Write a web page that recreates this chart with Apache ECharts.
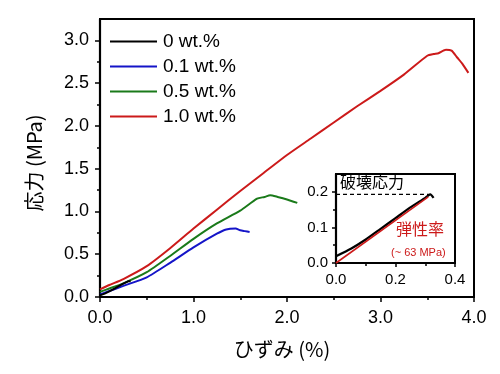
<!DOCTYPE html>
<html>
<head>
<meta charset="utf-8">
<script src="https://cdn.jsdelivr.net/npm/echarts@6/dist/echarts.min.js"></script>
<style>html,body{margin:0;padding:0;background:#fff}#c{width:500px;height:374px}</style>
</head>
<body>
<div id="c"></div>
<script>
// ---- data ----
const seriesNames = ['0 wt.%', '0.1 wt.%', '0.5 wt.%', '1.0 wt.%'];
const strainBlack = [0, 0.05, 0.1, 0.15, 0.2, 0.25, 0.3, 0.317, 0.328];
const stressBlack = [0.019, 0.04, 0.066, 0.096, 0.126, 0.156, 0.183, 0.193, 0.183];
const strainBlue = [0, 0.1, 0.25, 0.5, 0.75, 1.0, 1.25, 1.35, 1.45, 1.5, 1.55, 1.6];
const stressBlue = [0.03, 0.07, 0.13, 0.23, 0.40, 0.58, 0.74, 0.79, 0.80, 0.78, 0.77, 0.76];
const strainGreen = [0, 0.1, 0.25, 0.5, 0.75, 1.0, 1.25, 1.5, 1.68, 1.76, 1.82, 1.9, 2.0, 2.11];
const stressGreen = [0.06, 0.10, 0.16, 0.29, 0.48, 0.68, 0.86, 1.01, 1.15, 1.17, 1.19, 1.17, 1.14, 1.10];
const strainRed = [0, 0.1, 0.25, 0.5, 0.75, 1.0, 1.25, 1.5, 1.75, 2.0, 2.25, 2.5, 2.75, 3.0, 3.25, 3.5, 3.57, 3.62, 3.7, 3.76, 3.82, 3.88, 3.94];
const stressRed = [0.09, 0.14, 0.21, 0.36, 0.57, 0.80, 1.02, 1.24, 1.45, 1.66, 1.85, 2.04, 2.23, 2.41, 2.60, 2.82, 2.84, 2.85, 2.89, 2.88, 2.80, 2.72, 2.62];
// inset: modulus fit and fracture stress
const fitStrain = [0, 0.31];
const fitStress = [0, 0.186];
const breakStrain = [0, 0.317];
const breakStress = [0.193, 0.193];
// tick labels
const mainXTicks = [0, 1, 2, 3, 4];
const mainYTicks = [0, 0.5, 1.0, 1.5, 2.0, 2.5, 3.0];
const mainYMinor = [0.25, 0.75, 1.25, 1.75, 2.25, 2.75];
const insetXTicks = [0, 0.2, 0.4];
const insetYTicks = [0, 0.1, 0.2];
const insetYMinor = [0.05, 0.15];
const labelFracture = '破壊応力';
const labelModulus = '弾性率';
const labelModulusValue = '(~ 63 MPa)';

const pairs = (xs, ys) => xs.map((x, i) => [x, ys[i]]);
const colors = {black: '#000000', blue: '#1414c8', green: '#1a7a1a', red: '#cc1a1a'};
const latin = '"Liberation Sans", Arial, sans-serif';
const cjk = '"Noto Sans CJK JP", sans-serif';

const chart = echarts.init(document.getElementById('c'), null, {renderer: 'canvas'});

function valAxis(o) {
  return Object.assign({
    type: 'value',
    splitLine: {show: false},
    axisLine: {show: true, onZero: false, lineStyle: {color: '#000', width: 2.2}},
    axisTick: {show: true, length: 5, lineStyle: {color: '#000', width: 1.5}},
    minorTick: {show: false},
    axisLabel: {color: '#000', fontFamily: latin}
  }, o);
}

const option = {
  animation: false,
  backgroundColor: '#fff',
  grid: [
    {left: 100, top: 19, right: 26, bottom: 77, show: true, borderColor: '#000', borderWidth: 2, backgroundColor: 'transparent'},
    {left: 336, top: 174, right: 45, bottom: 111, show: true, borderColor: '#000', borderWidth: 2, backgroundColor: '#fff', z: 5}
  ],
  legend: {
    data: seriesNames,
    orient: 'vertical',
    left: 110, top: 32, padding: 0,
    itemWidth: 47, itemHeight: 14, itemGap: 6,
    icon: 'path://M0,6 L47,6 L47,8 L0,8 Z',
    textStyle: {fontFamily: latin, fontSize: 19, color: '#000', padding: [0, 0, 0, 1]},
    selectedMode: false
  },
  xAxis: [
    valAxis({gridIndex: 0, min: 0, max: 4, interval: 1,
      minorTick: {show: true, splitNumber: 2, length: 3, lineStyle: {color: '#000', width: 1.5}},
      axisLabel: {color: '#000', fontFamily: latin, fontSize: 18, margin: 12, formatter: v => mainXTicks.includes(v) ? v.toFixed(1) : ''},
      name: 'ひずみ (%)', nameLocation: 'middle', nameGap: 42,
      nameTextStyle: {fontFamily: cjk, fontSize: 20, color: '#000', padding: [0, 10, 0, 0]}}),
    valAxis({gridIndex: 1, min: 0, max: 0.4, interval: 0.2, z: 6,
      minorTick: {show: true, splitNumber: 2, length: 3, lineStyle: {color: '#000', width: 1.5}},
      axisTick: {show: true, length: 4, lineStyle: {color: '#000', width: 1.5}},
      axisLabel: {color: '#000', fontFamily: latin, fontSize: 15, margin: 9, formatter: v => insetXTicks.some(t => Math.abs(t - v) < 1e-9) ? v.toFixed(1) : ''}})
  ],
  yAxis: [
    valAxis({gridIndex: 0, min: 0, max: 3.25,
      axisTick: {show: true, length: 5, customValues: mainYTicks, lineStyle: {color: '#000', width: 1.5}},
      axisLabel: {color: '#000', fontFamily: latin, fontSize: 18, margin: 11, customValues: mainYTicks, formatter: v => v.toFixed(1)},
      name: '応力 (MPa)', nameLocation: 'middle', nameGap: 56, nameRotate: 90,
      nameTextStyle: {fontFamily: cjk, fontSize: 20, color: '#000', padding: [0, 10, 0, 0]}}),
    valAxis({gridIndex: 0, min: 0, max: 3.25, position: 'left',
      axisLine: {show: false},
      axisTick: {show: true, length: 3, customValues: mainYMinor, lineStyle: {color: '#000', width: 1.5}},
      axisLabel: {show: false}}),
    valAxis({gridIndex: 1, min: 0, max: 0.25, z: 6,
      axisTick: {show: true, length: 4, customValues: insetYTicks, lineStyle: {color: '#000', width: 1.5}},
      axisLabel: {color: '#000', fontFamily: latin, fontSize: 15, margin: 8, customValues: insetYTicks, formatter: v => v.toFixed(1)}}),
    valAxis({gridIndex: 1, min: 0, max: 0.25, position: 'left', z: 6,
      axisLine: {show: false},
      axisTick: {show: true, length: 3, customValues: insetYMinor, lineStyle: {color: '#000', width: 1.5}},
      axisLabel: {show: false}})
  ],
  series: [
    {name: seriesNames[3], type: 'line', xAxisIndex: 0, yAxisIndex: 0, data: pairs(strainRed, stressRed), symbol: 'none', smooth: 0.2, color: colors.red, lineStyle: {width: 2, color: colors.red}},
    {name: seriesNames[2], type: 'line', xAxisIndex: 0, yAxisIndex: 0, data: pairs(strainGreen, stressGreen), symbol: 'none', smooth: 0.2, color: colors.green, lineStyle: {width: 2, color: colors.green}},
    {name: seriesNames[1], type: 'line', xAxisIndex: 0, yAxisIndex: 0, data: pairs(strainBlue, stressBlue), symbol: 'none', smooth: 0.2, color: colors.blue, lineStyle: {width: 2, color: colors.blue}},
    {name: seriesNames[0], type: 'line', xAxisIndex: 0, yAxisIndex: 0, data: pairs(strainBlack, stressBlack), symbol: 'none', color: colors.black, lineStyle: {width: 2, color: colors.black}},
    {name: 'inset-break', type: 'line', xAxisIndex: 1, yAxisIndex: 2, data: pairs(breakStrain, breakStress), symbol: 'none', z: 7, lineStyle: {width: 1.3, color: '#000', type: [4, 3]}},
    {name: 'inset-black', type: 'line', xAxisIndex: 1, yAxisIndex: 2, data: pairs(strainBlack, stressBlack), symbol: 'none', smooth: 0.2, z: 7, lineStyle: {width: 2.2, color: colors.black}},
    {name: 'inset-fit', type: 'line', xAxisIndex: 1, yAxisIndex: 2, data: pairs(fitStrain, fitStress), symbol: 'none', z: 7, lineStyle: {width: 1.6, color: colors.red}}
  ],
  graphic: [
    {type: 'text', left: 340, top: 174, z: 100, style: {text: labelFracture, fontFamily: cjk, fontSize: 16, fill: '#000'}},
    {type: 'text', left: 396, top: 221, z: 100, style: {text: labelModulus, fontFamily: cjk, fontSize: 16, fill: colors.red}},
    {type: 'text', left: 391, top: 247, z: 100, style: {text: labelModulusValue, fontFamily: latin, fontSize: 11, fill: colors.red}}
  ]
};
chart.setOption(option);
</script>
</body>
</html>
